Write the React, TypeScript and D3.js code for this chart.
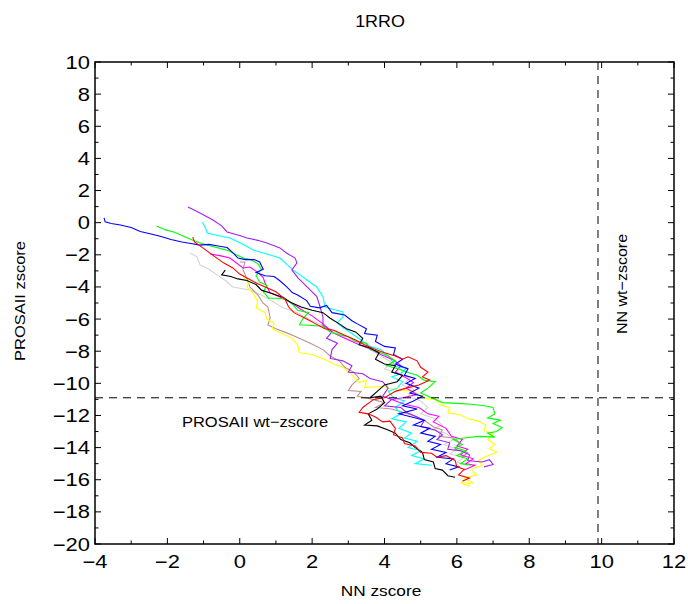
import React from "react";
import * as d3 from "d3";

const title = "1RRO";
const xLabel = "NN zscore";
const yLabel = "PROSAII zscore";
const xTicks = [-4, -2, 0, 2, 4, 6, 8, 10, 12];
const yTicks = [-20, -18, -16, -14, -12, -10, -8, -6, -4, -2, 0, 2, 4, 6, 8, 10];
const nnWt = 9.9;
const prosaWt = -10.9;

type P = [number, number];

const blue: P[] = [[-3.75,0.3],[-3.72,0.05],[-3.55,-0.05],[-3.3,-0.15],[-3.0,-0.3],[-2.75,-0.55],[-2.45,-0.7],[-2.2,-0.85],[-1.9,-1.05],[-1.6,-1.2],[-1.35,-1.3],[-1.1,-1.4],[-0.85,-1.35],[-0.6,-1.45],[-0.35,-1.55],[-0.2,-1.85],[-0.05,-2.2],[0.15,-2.3],[0.4,-2.3],[0.55,-2.45],[0.65,-2.9],[0.45,-3.1],[0.7,-3.3],[0.95,-3.35],[1.1,-3.6],[1.3,-4.0],[1.45,-4.35],[1.6,-4.5],[1.85,-4.85],[1.95,-5.2],[2.2,-5.3],[2.4,-5.15],[2.55,-5.6],[2.9,-5.75],[3.1,-6.1],[3.25,-6.3],[3.5,-6.6],[3.45,-6.9],[3.8,-7.0],[3.75,-7.4],[4.0,-7.7],[4.3,-7.8],[4.25,-8.2],[4.5,-8.5],[4.3,-8.8],[4.65,-9.1],[4.55,-9.5],[4.85,-9.7],[4.6,-10.0],[4.95,-10.3],[4.7,-10.6],[5.05,-10.8],[4.8,-11.1],[4.5,-11.4],[4.9,-11.6],[4.4,-11.9],[4.75,-12.1],[5.1,-12.3],[4.8,-12.6],[5.25,-12.8],[5.0,-13.1],[5.4,-13.3],[5.2,-13.6],[5.55,-13.8],[5.3,-14.1],[5.7,-14.3],[5.45,-14.6],[5.9,-14.7],[5.7,-15.0],[6.05,-15.2],[5.8,-15.4]];

const green: P[] = [[-2.3,-0.2],[-2.05,-0.45],[-1.8,-0.6],[-1.55,-0.85],[-1.3,-1.1],[-1.05,-1.3],[-0.8,-1.45],[-0.55,-1.6],[-0.3,-1.75],[-0.1,-2.0],[0.1,-2.2],[0.3,-2.3],[0.5,-2.55],[0.6,-2.9],[0.45,-3.3],[0.55,-3.7],[0.75,-3.9],[0.65,-4.3],[0.8,-4.7],[1.05,-4.7],[1.25,-4.75],[1.45,-5.05],[1.6,-5.45],[1.9,-5.6],[1.75,-5.95],[1.65,-6.35],[2.0,-6.4],[2.3,-6.45],[2.5,-6.8],[2.8,-7.0],[3.0,-7.1],[3.2,-7.4],[3.5,-7.5],[3.6,-7.9],[3.9,-8.1],[4.1,-8.3],[4.3,-8.6],[4.05,-8.9],[4.4,-9.1],[4.6,-9.3],[4.9,-9.5],[5.1,-9.8],[5.4,-9.9],[5.2,-10.3],[5.0,-10.6],[5.25,-10.85],[5.6,-11.2],[6.0,-11.25],[6.4,-11.3],[6.75,-11.4],[7.0,-11.5],[7.05,-11.9],[6.85,-12.15],[7.2,-12.3],[7.0,-12.5],[7.25,-12.75],[7.1,-13.0],[6.85,-13.1],[7.05,-13.35],[6.6,-13.3],[6.2,-13.4],[5.9,-13.5],[6.15,-13.8],[5.95,-14.0],[6.25,-14.2],[6.0,-14.5],[6.3,-14.7],[6.1,-15.0],[6.4,-15.1]];

const red: P[] = [[-1.3,-0.9],[-1.25,-1.2],[-1.0,-1.6],[-0.7,-2.1],[-0.45,-2.5],[-0.2,-2.8],[0.0,-3.2],[0.2,-3.45],[0.5,-3.8],[0.75,-4.05],[1.0,-4.3],[1.25,-4.75],[1.35,-5.25],[1.5,-5.6],[1.85,-6.0],[2.1,-6.3],[2.35,-6.6],[2.6,-6.7],[2.9,-7.0],[3.2,-7.3],[3.45,-7.6],[3.7,-7.85],[4.0,-8.1],[4.3,-8.3],[4.5,-8.5],[4.65,-8.35],[4.9,-8.6],[5.0,-9.0],[5.2,-9.3],[5.05,-9.6],[5.25,-9.8],[4.95,-10.1],[4.6,-10.3],[4.3,-10.5],[4.0,-10.9],[3.7,-11.0],[3.4,-11.5],[3.3,-11.8],[3.55,-11.9],[3.75,-12.1],[3.95,-12.4],[4.15,-12.35],[4.3,-12.8],[4.25,-13.2],[4.5,-13.4],[4.55,-13.75],[4.85,-13.9],[5.0,-14.3],[5.3,-14.35],[5.45,-14.6],[5.7,-14.5],[5.95,-14.8],[6.0,-15.2],[6.2,-15.35],[6.05,-15.7],[6.35,-15.9],[6.15,-16.1]];

const black: P[] = [[-0.4,-2.95],[-0.5,-3.25],[-0.25,-3.35],[-0.05,-3.5],[0.2,-3.6],[0.45,-3.85],[0.6,-4.2],[0.95,-4.45],[1.2,-4.65],[1.4,-4.95],[1.7,-5.25],[2.0,-5.45],[2.3,-5.6],[2.5,-5.95],[2.75,-6.3],[2.95,-6.6],[3.2,-6.8],[3.4,-7.2],[3.3,-7.6],[3.6,-7.8],[3.85,-8.1],[3.75,-8.5],[4.0,-8.8],[4.3,-8.9],[4.2,-9.3],[4.5,-9.5],[4.35,-9.9],[4.0,-10.1],[3.8,-10.5],[3.6,-10.9],[3.9,-10.8],[4.0,-11.2],[3.8,-11.6],[3.55,-11.9],[3.65,-12.3],[3.45,-12.6],[3.8,-12.65],[4.1,-12.9],[4.3,-13.1],[4.45,-13.5],[4.7,-13.7],[4.85,-14.0],[5.05,-14.3],[5.1,-14.75],[5.35,-14.9],[5.4,-15.3],[5.6,-15.4],[5.75,-15.75],[5.95,-15.85]];

const yellow: P[] = [[0.1,-3.4],[0.25,-3.7],[0.2,-4.0],[0.35,-4.35],[0.5,-4.9],[0.45,-5.3],[0.7,-5.6],[0.75,-6.0],[0.95,-6.25],[0.9,-6.6],[1.2,-6.95],[1.45,-7.2],[1.6,-7.6],[1.65,-8.1],[2.0,-8.2],[2.3,-8.45],[2.6,-8.8],[2.85,-9.0],[3.05,-9.35],[3.3,-9.95],[3.5,-9.8],[3.45,-10.25],[3.9,-10.2],[4.35,-10.4],[4.8,-10.5],[5.15,-10.95],[5.4,-11.0],[5.55,-11.35],[5.8,-11.5],[5.75,-11.85],[6.1,-11.95],[6.3,-12.2],[6.6,-12.35],[6.8,-12.6],[6.75,-12.95],[7.0,-13.1],[6.85,-13.5],[7.05,-13.8],[6.9,-14.05],[7.1,-14.3],[6.8,-14.55],[6.6,-14.8],[6.7,-15.1],[6.4,-15.35],[6.55,-15.7],[6.2,-15.9],[6.45,-16.2],[6.1,-16.2],[6.35,-16.4]];

const purple: P[] = [[-1.43,0.97],[-1.1,0.6],[-0.74,0.17],[-0.5,-0.2],[-0.35,-0.58],[0.0,-0.8],[0.2,-0.95],[0.5,-1.1],[0.75,-1.26],[1.11,-1.57],[1.3,-1.9],[1.53,-2.2],[1.58,-2.5],[1.44,-2.94],[1.61,-3.44],[1.86,-4.0],[2.13,-4.6],[2.22,-5.25],[2.3,-5.87],[2.3,-6.37],[2.55,-6.8],[2.4,-7.2],[2.7,-7.5],[2.55,-7.9],[2.5,-8.45],[2.85,-8.6],[3.1,-8.9],[3.0,-9.3],[3.4,-9.4],[3.6,-9.7],[3.95,-9.9],[4.1,-10.3],[3.95,-10.8],[4.2,-11.0],[4.0,-11.4],[4.45,-11.5],[4.6,-11.8],[4.9,-12.1],[5.1,-12.3],[5.0,-12.7],[5.4,-12.9],[5.6,-13.2],[5.45,-13.5],[5.8,-13.7],[5.75,-14.1],[6.1,-14.2],[6.35,-14.45],[6.3,-14.8],[6.7,-14.9],[6.9,-14.75],[7.0,-15.05],[6.75,-15.2]];

const cyan: P[] = [[-1.04,0.04],[-0.95,-0.3],[-0.9,-0.64],[-0.6,-0.8],[-0.27,-0.95],[0.05,-1.3],[0.37,-1.7],[0.75,-1.95],[1.11,-2.2],[1.3,-2.6],[1.47,-2.94],[1.86,-3.57],[2.13,-4.0],[2.3,-4.62],[2.36,-5.25],[2.6,-5.4],[2.85,-5.56],[2.85,-5.87],[2.69,-6.24],[2.9,-6.6],[3.1,-6.9],[3.35,-7.3],[3.6,-7.7],[3.9,-7.9],[4.15,-8.4],[4.3,-8.95],[4.6,-9.05],[4.45,-9.4],[4.2,-9.6],[4.5,-9.9],[4.35,-10.3],[4.1,-10.5],[4.25,-10.9],[4.55,-11.1],[4.3,-11.5],[4.45,-11.9],[4.2,-12.2],[4.6,-12.4],[4.4,-12.8],[4.75,-13.1],[4.55,-13.4],[4.9,-13.6],[4.65,-14.0],[5.0,-14.2],[4.75,-14.5],[5.1,-14.7],[4.85,-15.0],[5.3,-15.1]];

const magenta: P[] = [[-0.82,-1.95],[-0.55,-2.05],[-0.27,-2.2],[0.09,-2.82],[0.28,-2.76],[0.5,-3.1],[0.64,-3.38],[0.7,-3.75],[0.84,-4.37],[1.11,-4.62],[1.4,-4.95],[1.7,-5.4],[2.0,-5.8],[2.3,-6.3],[2.58,-6.86],[2.9,-7.2],[3.3,-7.6],[3.6,-7.85],[3.9,-8.2],[4.25,-8.55],[4.45,-8.9],[4.3,-9.3],[4.55,-9.6],[4.8,-9.95],[4.6,-10.3],[4.9,-10.7],[4.5,-10.9],[4.2,-11.0],[4.55,-11.3],[4.95,-11.5],[5.2,-11.9],[5.5,-12.05],[5.35,-12.4],[5.7,-12.8],[5.85,-13.3],[6.15,-13.5],[6.0,-13.9],[6.3,-14.1],[6.1,-14.45],[6.45,-14.7],[6.25,-15.0],[6.5,-15.1],[6.2,-15.4]];

const rosy: P[] = [[0.0,-2.45],[0.14,-2.45],[0.09,-2.94],[0.2,-3.5],[0.28,-4.0],[0.5,-4.5],[0.64,-5.0],[0.78,-5.25],[0.84,-5.93],[0.78,-6.37],[1.0,-6.6],[1.3,-6.86],[1.55,-7.1],[1.95,-7.5],[2.3,-7.9],[2.5,-8.3],[2.75,-8.6],[2.9,-9.0],[3.15,-9.3],[3.3,-9.7],[3.1,-10.1],[3.0,-10.45],[3.35,-10.5],[3.25,-10.8],[3.6,-10.95],[4.0,-11.2],[3.75,-11.5],[4.2,-11.6],[4.5,-11.8],[4.8,-12.0],[5.1,-12.3],[5.35,-12.7],[5.6,-12.9],[5.5,-13.3],[5.9,-13.4],[6.1,-13.7],[5.95,-14.1],[6.3,-14.3],[6.15,-14.6]];

const gray: P[] = [[-1.37,-1.9],[-1.18,-2.13],[-1.1,-2.63],[-0.85,-2.9],[-0.63,-3.25],[-0.4,-3.6],[-0.19,-4.0],[0.28,-4.19],[0.6,-4.5],[0.9,-4.9],[1.2,-5.3],[1.6,-5.6],[1.9,-6.0],[2.3,-6.4],[2.65,-6.8],[2.95,-7.2],[3.3,-7.5],[3.6,-7.9],[3.9,-8.3],[4.2,-8.7],[4.0,-9.1],[4.4,-9.4],[4.7,-9.7],[4.5,-10.1],[4.8,-10.4],[4.65,-10.8],[5.0,-11.1],[5.2,-11.5],[5.0,-11.9],[5.4,-12.2],[5.6,-12.6],[5.3,-12.9],[5.7,-13.1],[5.9,-13.5],[5.65,-13.8],[6.0,-14.1],[5.8,-14.4],[6.2,-14.6],[6.0,-14.9],[6.3,-15.1]];

const series: { data: P[]; color: string }[] = [
  { data: gray, color: "#d3d3d3" },
  { data: rosy, color: "#bc8f8f" },
  { data: yellow, color: "#ffff00" },
  { data: cyan, color: "#00ffff" },
  { data: purple, color: "#a020f0" },
  { data: magenta, color: "#ff00ff" },
  { data: green, color: "#00ff00" },
  { data: black, color: "#000000" },
  { data: blue, color: "#0000ff" },
  { data: red, color: "#ff0000" },
];

const W = 688, H = 604;
const L = 95, R = 674, T = 62, B = 544;
const FONT = "'Liberation Sans', Arial, Helvetica, sans-serif";

function SText({ x, y, size, sx, anchor, rot, children }: { x: number; y: number; size: number; sx: number; anchor: string; rot?: number; children: React.ReactNode }) {
  const t = rot ? `translate(${x},${y}) rotate(${rot}) scale(${sx},1)` : `translate(${x},${y}) scale(${sx},1)`;
  return (
    <text transform={t} fontSize={size} textAnchor={anchor as any}>{children}</text>
  );
}

export default function App() {
  const x = d3.scaleLinear().domain([-4, 12]).range([L, R]);
  const y = d3.scaleLinear().domain([-20, 10]).range([B, T]);
  const line = d3.line<P>().x((d) => x(d[0])).y((d) => y(d[1]));
  const xMinor = d3.range(-4, 12.01, 1);
  const yMinor = d3.range(-20, 10.01, 1);
  const minus = (v: number) => (v < 0 ? "\u2212" + Math.abs(v) : String(v));
  return (
    <svg width={W} height={H} style={{ position: "absolute", left: 0, top: 0, background: "#fff" }} fontFamily={FONT}>
      <rect x={0} y={0} width={W} height={H} fill="#fff" />
      <defs>
        <clipPath id="clip"><rect x={L} y={T} width={R - L} height={B - T} /></clipPath>
      </defs>
      <g clipPath="url(#clip)">
        {series.map((s, i) => (
          <path key={i} d={line(s.data) || ""} fill="none" stroke={s.color} strokeWidth={1.1} />
        ))}
      </g>
      <line x1={x(nnWt)} x2={x(nnWt)} y1={T} y2={B} stroke="#000" strokeWidth={1} strokeDasharray="8,6" />
      <line x1={L} x2={R} y1={y(prosaWt)} y2={y(prosaWt)} stroke="#000" strokeWidth={1} strokeDasharray="8,6" />
      <SText x={255} y={427} size={15} sx={1.1} anchor="middle">PROSAII wt−zscore</SText>
      <SText x={627} y={284} size={15} sx={1.07} anchor="middle" rot={-90}>NN wt−zscore</SText>
      {xMinor.map((v) => {
        const major = v % 2 === 0;
        const len = major ? 6 : 3.5;
        return (
          <g key={"xt" + v}>
            <line x1={x(v)} x2={x(v)} y1={B} y2={B - len} stroke="#000" strokeWidth={1} />
            <line x1={x(v)} x2={x(v)} y1={T} y2={T + len} stroke="#000" strokeWidth={1} />
          </g>
        );
      })}
      {yMinor.map((v) => {
        const major = v % 2 === 0;
        const len = major ? 6 : 3.5;
        return (
          <g key={"yt" + v}>
            <line x1={L} x2={L + len} y1={y(v)} y2={y(v)} stroke="#000" strokeWidth={1} />
            <line x1={R} x2={R - len} y1={y(v)} y2={y(v)} stroke="#000" strokeWidth={1} />
          </g>
        );
      })}
      <rect x={L} y={T} width={R - L} height={B - T} fill="none" stroke="#000" strokeWidth={1.5} />
      {xTicks.map((v) => (
        <SText key={"xl" + v} x={x(v)} y={568} size={18} sx={1.22} anchor="middle">{minus(v)}</SText>
      ))}
      {yTicks.map((v) => (
        <SText key={"yl" + v} x={90} y={y(v) + 6.5} size={18} sx={1.22} anchor="end">{minus(v)}</SText>
      ))}
      <SText x={380} y={27} size={16} sx={1.12} anchor="middle">{title}</SText>
      <SText x={381} y={596} size={15} sx={1.15} anchor="middle">{xLabel}</SText>
      <SText x={25} y={301} size={15} sx={1.1} anchor="middle" rot={-90}>{yLabel}</SText>
    </svg>
  );
}
